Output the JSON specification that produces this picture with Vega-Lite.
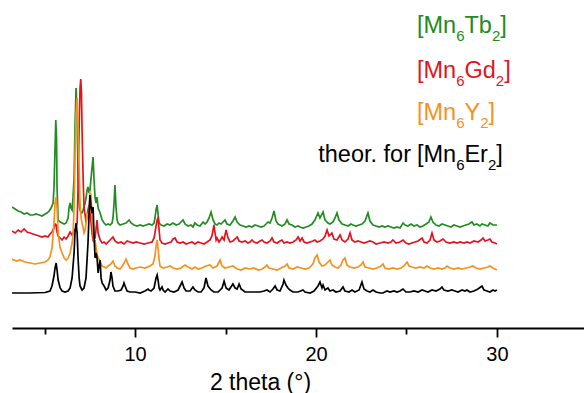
{
  "$schema": "https://vega.github.io/schema/vega-lite/v6.json",
  "width": 572,
  "height": 328,
  "autosize": {"type": "none"},
  "padding": {"left": 12, "top": 0, "right": 0, "bottom": 65},
  "background": "white",
  "config": {"view": {"stroke": null}, "font": "Liberation Sans"},
  "datasets": {
    "k": [{"x":3.20,"y":35},{"x":4.20,"y":35},{"x":5.03,"y":35.5},{"x":5.30,"y":37},{"x":5.41,"y":42},{"x":5.52,"y":52},{"x":5.58,"y":60},{"x":5.64,"y":65},{"x":5.69,"y":58},{"x":5.75,"y":48},{"x":5.86,"y":40},{"x":5.97,"y":37},{"x":6.13,"y":36},{"x":6.30,"y":37},{"x":6.41,"y":40},{"x":6.52,"y":50},{"x":6.63,"y":75},{"x":6.68,"y":95},{"x":6.74,"y":105},{"x":6.80,"y":95},{"x":6.85,"y":70},{"x":6.91,"y":50},{"x":6.96,"y":42},{"x":7.07,"y":38},{"x":7.18,"y":40},{"x":7.29,"y":50},{"x":7.40,"y":85},{"x":7.46,"y":115},{"x":7.51,"y":133},{"x":7.57,"y":120},{"x":7.62,"y":115},{"x":7.68,"y":121},{"x":7.73,"y":95},{"x":7.79,"y":70},{"x":7.85,"y":75},{"x":7.90,"y":70},{"x":7.96,"y":55},{"x":8.01,"y":62},{"x":8.07,"y":68},{"x":8.12,"y":50},{"x":8.18,"y":45},{"x":8.29,"y":42},{"x":8.40,"y":38},{"x":8.51,"y":40},{"x":8.62,"y":48},{"x":8.67,"y":56},{"x":8.73,"y":50},{"x":8.78,"y":42},{"x":8.89,"y":37},{"x":9.06,"y":37},{"x":9.23,"y":38},{"x":9.34,"y":42},{"x":9.39,"y":45},{"x":9.45,"y":42},{"x":9.56,"y":37},{"x":9.72,"y":36},{"x":10.00,"y":36},{"x":10.28,"y":35},{"x":10.55,"y":37},{"x":10.72,"y":39},{"x":10.77,"y":38},{"x":10.88,"y":37},{"x":11.05,"y":40},{"x":11.16,"y":50},{"x":11.22,"y":53},{"x":11.27,"y":48},{"x":11.33,"y":40},{"x":11.38,"y":38},{"x":11.49,"y":41},{"x":11.55,"y":38},{"x":11.66,"y":36},{"x":11.82,"y":39},{"x":11.93,"y":37},{"x":12.15,"y":36},{"x":12.38,"y":38},{"x":12.49,"y":42},{"x":12.60,"y":46},{"x":12.71,"y":40},{"x":12.82,"y":37},{"x":13.04,"y":37},{"x":13.20,"y":41},{"x":13.31,"y":38},{"x":13.48,"y":36},{"x":13.65,"y":36},{"x":13.81,"y":40},{"x":13.92,"y":50},{"x":14.03,"y":42},{"x":14.20,"y":38},{"x":14.36,"y":36},{"x":14.59,"y":36},{"x":14.81,"y":40},{"x":14.92,"y":47},{"x":15.03,"y":40},{"x":15.19,"y":38},{"x":15.41,"y":44},{"x":15.53,"y":40},{"x":15.64,"y":39},{"x":15.75,"y":44},{"x":15.86,"y":39},{"x":16.08,"y":36},{"x":16.35,"y":36},{"x":16.63,"y":36},{"x":16.91,"y":36},{"x":17.13,"y":37},{"x":17.29,"y":38},{"x":17.46,"y":36},{"x":17.62,"y":39},{"x":17.74,"y":42},{"x":17.85,"y":38},{"x":18.01,"y":37},{"x":18.18,"y":44},{"x":18.23,"y":48},{"x":18.34,"y":43},{"x":18.45,"y":40},{"x":18.56,"y":38},{"x":18.73,"y":36},{"x":19.01,"y":36},{"x":19.28,"y":38},{"x":19.39,"y":36},{"x":19.67,"y":35},{"x":19.89,"y":37},{"x":20.11,"y":42},{"x":20.22,"y":46},{"x":20.33,"y":40},{"x":20.39,"y":43},{"x":20.50,"y":38},{"x":20.66,"y":40},{"x":20.77,"y":37},{"x":20.94,"y":38},{"x":21.10,"y":36},{"x":21.33,"y":37},{"x":21.49,"y":41},{"x":21.60,"y":37},{"x":21.82,"y":36},{"x":21.99,"y":38},{"x":22.15,"y":36},{"x":22.38,"y":38},{"x":22.54,"y":46},{"x":22.65,"y":39},{"x":22.82,"y":37},{"x":22.98,"y":36},{"x":23.15,"y":38},{"x":23.32,"y":36},{"x":23.54,"y":35},{"x":23.70,"y":35},{"x":23.92,"y":37},{"x":24.09,"y":36},{"x":24.31,"y":37},{"x":24.48,"y":36},{"x":24.64,"y":37},{"x":24.81,"y":39},{"x":24.97,"y":36},{"x":25.19,"y":36},{"x":25.41,"y":37},{"x":25.64,"y":36},{"x":25.86,"y":38},{"x":26.02,"y":37},{"x":26.19,"y":36},{"x":26.41,"y":38},{"x":26.63,"y":37},{"x":26.85,"y":39},{"x":26.96,"y":41},{"x":27.07,"y":38},{"x":27.29,"y":37},{"x":27.51,"y":38},{"x":27.68,"y":37},{"x":27.85,"y":36},{"x":28.07,"y":38},{"x":28.23,"y":37},{"x":28.34,"y":38},{"x":28.51,"y":36},{"x":28.73,"y":37},{"x":28.95,"y":39},{"x":29.17,"y":42},{"x":29.28,"y":38},{"x":29.45,"y":37},{"x":29.61,"y":36},{"x":29.78,"y":38},{"x":29.89,"y":37},{"x":30.00,"y":38}],
    "o": [{"x":3.20,"y":69},{"x":3.43,"y":67},{"x":3.65,"y":68},{"x":3.92,"y":66},{"x":4.20,"y":65},{"x":4.48,"y":64},{"x":4.75,"y":65},{"x":5.03,"y":66},{"x":5.19,"y":68},{"x":5.30,"y":71},{"x":5.41,"y":80},{"x":5.52,"y":105},{"x":5.58,"y":125},{"x":5.64,"y":131},{"x":5.69,"y":120},{"x":5.75,"y":95},{"x":5.86,"y":80},{"x":5.97,"y":75},{"x":6.08,"y":70},{"x":6.19,"y":68},{"x":6.30,"y":70},{"x":6.41,"y":75},{"x":6.52,"y":85},{"x":6.57,"y":92},{"x":6.63,"y":120},{"x":6.68,"y":170},{"x":6.74,"y":215},{"x":6.80,"y":230},{"x":6.85,"y":200},{"x":6.91,"y":160},{"x":6.96,"y":125},{"x":7.02,"y":110},{"x":7.07,"y":105},{"x":7.13,"y":100},{"x":7.18,"y":95},{"x":7.24,"y":98},{"x":7.29,"y":105},{"x":7.35,"y":115},{"x":7.40,"y":110},{"x":7.46,"y":120},{"x":7.51,"y":135},{"x":7.57,"y":133},{"x":7.62,"y":110},{"x":7.68,"y":95},{"x":7.73,"y":85},{"x":7.79,"y":88},{"x":7.85,"y":80},{"x":7.90,"y":74},{"x":7.96,"y":70},{"x":8.07,"y":66},{"x":8.18,"y":62},{"x":8.29,"y":61},{"x":8.40,"y":60},{"x":8.51,"y":62},{"x":8.67,"y":64},{"x":8.78,"y":67},{"x":8.89,"y":62},{"x":9.01,"y":60},{"x":9.17,"y":59},{"x":9.34,"y":63},{"x":9.50,"y":69},{"x":9.61,"y":64},{"x":9.72,"y":60},{"x":9.89,"y":59},{"x":10.06,"y":60},{"x":10.28,"y":61},{"x":10.55,"y":60},{"x":10.83,"y":62},{"x":10.99,"y":64},{"x":11.10,"y":72},{"x":11.16,"y":82},{"x":11.22,"y":88},{"x":11.27,"y":80},{"x":11.33,"y":68},{"x":11.38,"y":62},{"x":11.55,"y":60},{"x":11.77,"y":61},{"x":11.93,"y":62},{"x":12.10,"y":60},{"x":12.32,"y":59},{"x":12.54,"y":60},{"x":12.76,"y":63},{"x":12.93,"y":61},{"x":13.15,"y":59},{"x":13.31,"y":61},{"x":13.48,"y":59},{"x":13.70,"y":60},{"x":13.92,"y":62},{"x":14.14,"y":63},{"x":14.31,"y":60},{"x":14.53,"y":62},{"x":14.70,"y":68},{"x":14.81,"y":62},{"x":14.97,"y":60},{"x":15.19,"y":61},{"x":15.41,"y":62},{"x":15.64,"y":59},{"x":15.86,"y":58},{"x":16.08,"y":60},{"x":16.35,"y":59},{"x":16.57,"y":60},{"x":16.80,"y":58},{"x":17.02,"y":59},{"x":17.18,"y":61},{"x":17.29,"y":63},{"x":17.40,"y":60},{"x":17.62,"y":59},{"x":17.85,"y":58},{"x":18.07,"y":60},{"x":18.29,"y":62},{"x":18.40,"y":64},{"x":18.51,"y":60},{"x":18.73,"y":59},{"x":18.95,"y":61},{"x":19.17,"y":60},{"x":19.39,"y":59},{"x":19.61,"y":60},{"x":19.83,"y":64},{"x":19.94,"y":70},{"x":20.06,"y":73},{"x":20.17,"y":66},{"x":20.33,"y":62},{"x":20.50,"y":63},{"x":20.66,"y":66},{"x":20.77,"y":68},{"x":20.88,"y":63},{"x":21.05,"y":61},{"x":21.22,"y":60},{"x":21.38,"y":63},{"x":21.49,"y":68},{"x":21.60,"y":70},{"x":21.71,"y":63},{"x":21.88,"y":61},{"x":22.10,"y":60},{"x":22.32,"y":61},{"x":22.49,"y":63},{"x":22.60,"y":66},{"x":22.71,"y":61},{"x":22.93,"y":60},{"x":23.15,"y":59},{"x":23.37,"y":60},{"x":23.59,"y":62},{"x":23.70,"y":64},{"x":23.81,"y":60},{"x":24.03,"y":59},{"x":24.25,"y":60},{"x":24.48,"y":59},{"x":24.70,"y":60},{"x":24.86,"y":62},{"x":25.03,"y":66},{"x":25.14,"y":62},{"x":25.30,"y":61},{"x":25.52,"y":60},{"x":25.75,"y":61},{"x":25.97,"y":60},{"x":26.13,"y":62},{"x":26.30,"y":60},{"x":26.52,"y":59},{"x":26.74,"y":60},{"x":26.96,"y":59},{"x":27.13,"y":60},{"x":27.24,"y":62},{"x":27.40,"y":60},{"x":27.62,"y":59},{"x":27.85,"y":60},{"x":28.07,"y":59},{"x":28.29,"y":60},{"x":28.51,"y":61},{"x":28.67,"y":62},{"x":28.84,"y":60},{"x":29.06,"y":59},{"x":29.28,"y":60},{"x":29.50,"y":61},{"x":29.61,"y":62},{"x":29.78,"y":60},{"x":30.00,"y":58}],
    "r": [{"x":3.20,"y":97},{"x":3.37,"y":95},{"x":3.54,"y":98},{"x":3.70,"y":96},{"x":3.87,"y":99},{"x":4.03,"y":96},{"x":4.20,"y":95},{"x":4.36,"y":94},{"x":4.53,"y":93},{"x":4.70,"y":92},{"x":4.86,"y":91},{"x":5.03,"y":92},{"x":5.19,"y":91},{"x":5.30,"y":94},{"x":5.41,"y":96},{"x":5.52,"y":100},{"x":5.58,"y":104},{"x":5.64,"y":103},{"x":5.69,"y":96},{"x":5.75,"y":92},{"x":5.86,"y":90},{"x":5.97,"y":88},{"x":6.08,"y":91},{"x":6.19,"y":89},{"x":6.30,"y":92},{"x":6.41,"y":96},{"x":6.52,"y":93},{"x":6.63,"y":97},{"x":6.74,"y":100},{"x":6.80,"y":105},{"x":6.85,"y":140},{"x":6.91,"y":200},{"x":6.96,"y":240},{"x":7.00,"y":249},{"x":7.04,"y":235},{"x":7.07,"y":200},{"x":7.13,"y":150},{"x":7.18,"y":120},{"x":7.24,"y":113},{"x":7.29,"y":105},{"x":7.35,"y":112},{"x":7.40,"y":118},{"x":7.46,"y":123},{"x":7.51,"y":115},{"x":7.57,"y":105},{"x":7.62,"y":95},{"x":7.68,"y":88},{"x":7.79,"y":90},{"x":7.90,"y":108},{"x":7.96,"y":95},{"x":8.07,"y":88},{"x":8.18,"y":85},{"x":8.29,"y":86},{"x":8.40,"y":84},{"x":8.51,"y":86},{"x":8.62,"y":88},{"x":8.78,"y":91},{"x":8.89,"y":87},{"x":9.06,"y":85},{"x":9.23,"y":86},{"x":9.39,"y":84},{"x":9.56,"y":87},{"x":9.72,"y":86},{"x":9.89,"y":85},{"x":10.06,"y":86},{"x":10.28,"y":85},{"x":10.50,"y":84},{"x":10.72,"y":85},{"x":10.94,"y":86},{"x":11.05,"y":90},{"x":11.10,"y":95},{"x":11.16,"y":102},{"x":11.22,"y":108},{"x":11.27,"y":110},{"x":11.33,"y":98},{"x":11.38,"y":88},{"x":11.49,"y":85},{"x":11.66,"y":84},{"x":11.82,"y":85},{"x":11.99,"y":86},{"x":12.10,"y":89},{"x":12.21,"y":90},{"x":12.32,"y":86},{"x":12.49,"y":85},{"x":12.65,"y":86},{"x":12.82,"y":84},{"x":12.98,"y":85},{"x":13.15,"y":86},{"x":13.31,"y":84},{"x":13.48,"y":86},{"x":13.65,"y":85},{"x":13.81,"y":84},{"x":13.98,"y":86},{"x":14.14,"y":88},{"x":14.25,"y":92},{"x":14.36,"y":103},{"x":14.42,"y":95},{"x":14.48,"y":88},{"x":14.53,"y":90},{"x":14.64,"y":86},{"x":14.75,"y":89},{"x":14.81,"y":91},{"x":14.92,"y":88},{"x":15.03,"y":98},{"x":15.14,"y":90},{"x":15.25,"y":86},{"x":15.41,"y":87},{"x":15.53,"y":89},{"x":15.64,"y":91},{"x":15.75,"y":87},{"x":15.91,"y":86},{"x":16.08,"y":87},{"x":16.24,"y":85},{"x":16.35,"y":86},{"x":16.46,"y":88},{"x":16.57,"y":86},{"x":16.74,"y":85},{"x":16.91,"y":87},{"x":17.02,"y":88},{"x":17.13,"y":86},{"x":17.29,"y":85},{"x":17.46,"y":87},{"x":17.57,"y":90},{"x":17.68,"y":86},{"x":17.85,"y":85},{"x":18.01,"y":87},{"x":18.12,"y":88},{"x":18.23,"y":85},{"x":18.40,"y":86},{"x":18.56,"y":85},{"x":18.73,"y":86},{"x":18.90,"y":88},{"x":19.01,"y":91},{"x":19.12,"y":87},{"x":19.23,"y":90},{"x":19.34,"y":86},{"x":19.50,"y":85},{"x":19.67,"y":86},{"x":19.83,"y":87},{"x":19.94,"y":88},{"x":20.06,"y":86},{"x":20.22,"y":87},{"x":20.39,"y":89},{"x":20.50,"y":92},{"x":20.61,"y":98},{"x":20.72,"y":92},{"x":20.88,"y":95},{"x":20.99,"y":89},{"x":21.16,"y":88},{"x":21.33,"y":93},{"x":21.44,"y":88},{"x":21.60,"y":86},{"x":21.77,"y":89},{"x":21.88,"y":95},{"x":21.99,"y":88},{"x":22.15,"y":86},{"x":22.32,"y":87},{"x":22.49,"y":86},{"x":22.65,"y":85},{"x":22.82,"y":86},{"x":22.98,"y":87},{"x":23.15,"y":86},{"x":23.32,"y":84},{"x":23.54,"y":85},{"x":23.76,"y":86},{"x":23.98,"y":85},{"x":24.14,"y":86},{"x":24.25,"y":88},{"x":24.42,"y":85},{"x":24.64,"y":86},{"x":24.81,"y":88},{"x":24.97,"y":85},{"x":25.14,"y":84},{"x":25.30,"y":85},{"x":25.47,"y":86},{"x":25.64,"y":87},{"x":25.86,"y":90},{"x":25.97,"y":86},{"x":26.13,"y":85},{"x":26.30,"y":88},{"x":26.41,"y":95},{"x":26.52,"y":88},{"x":26.68,"y":86},{"x":26.85,"y":87},{"x":27.02,"y":89},{"x":27.18,"y":86},{"x":27.40,"y":85},{"x":27.62,"y":86},{"x":27.79,"y":85},{"x":27.96,"y":86},{"x":28.18,"y":85},{"x":28.34,"y":86},{"x":28.51,"y":85},{"x":28.73,"y":87},{"x":28.95,"y":86},{"x":29.12,"y":88},{"x":29.23,"y":90},{"x":29.34,"y":87},{"x":29.50,"y":88},{"x":29.61,"y":89},{"x":29.72,"y":86},{"x":29.89,"y":85},{"x":30.00,"y":84}],
    "g": [{"x":3.20,"y":121},{"x":3.37,"y":119},{"x":3.54,"y":117},{"x":3.70,"y":116},{"x":3.87,"y":114},{"x":4.03,"y":115},{"x":4.20,"y":113},{"x":4.36,"y":113},{"x":4.53,"y":114},{"x":4.70,"y":113},{"x":4.86,"y":112},{"x":5.03,"y":114},{"x":5.14,"y":115},{"x":5.25,"y":117},{"x":5.36,"y":120},{"x":5.47,"y":125},{"x":5.52,"y":140},{"x":5.58,"y":180},{"x":5.62,"y":208},{"x":5.66,"y":190},{"x":5.69,"y":140},{"x":5.75,"y":108},{"x":5.86,"y":106},{"x":5.97,"y":105},{"x":6.08,"y":104},{"x":6.19,"y":105},{"x":6.30,"y":110},{"x":6.35,"y":120},{"x":6.41,"y":125},{"x":6.46,"y":120},{"x":6.52,"y":118},{"x":6.57,"y":130},{"x":6.63,"y":150},{"x":6.68,"y":200},{"x":6.74,"y":240},{"x":6.80,"y":210},{"x":6.85,"y":150},{"x":6.91,"y":125},{"x":6.96,"y":118},{"x":7.02,"y":115},{"x":7.07,"y":115},{"x":7.13,"y":118},{"x":7.24,"y":125},{"x":7.29,"y":130},{"x":7.35,"y":138},{"x":7.40,"y":141},{"x":7.46,"y":135},{"x":7.51,"y":138},{"x":7.57,"y":150},{"x":7.62,"y":160},{"x":7.68,"y":171},{"x":7.73,"y":150},{"x":7.79,"y":130},{"x":7.85,"y":125},{"x":7.90,"y":131},{"x":7.96,"y":120},{"x":8.07,"y":115},{"x":8.18,"y":108},{"x":8.29,"y":105},{"x":8.40,"y":103},{"x":8.51,"y":104},{"x":8.62,"y":103},{"x":8.73,"y":105},{"x":8.78,"y":110},{"x":8.84,"y":125},{"x":8.89,"y":143},{"x":8.95,"y":120},{"x":9.01,"y":108},{"x":9.06,"y":105},{"x":9.17,"y":103},{"x":9.34,"y":104},{"x":9.50,"y":105},{"x":9.67,"y":108},{"x":9.78,"y":105},{"x":9.94,"y":103},{"x":10.11,"y":102},{"x":10.28,"y":103},{"x":10.44,"y":102},{"x":10.61,"y":103},{"x":10.77,"y":104},{"x":10.94,"y":103},{"x":11.05,"y":105},{"x":11.10,"y":110},{"x":11.16,"y":118},{"x":11.22,"y":123},{"x":11.27,"y":114},{"x":11.33,"y":105},{"x":11.44,"y":103},{"x":11.60,"y":102},{"x":11.77,"y":104},{"x":11.93,"y":103},{"x":12.10,"y":105},{"x":12.27,"y":103},{"x":12.43,"y":104},{"x":12.54,"y":106},{"x":12.65,"y":108},{"x":12.76,"y":104},{"x":12.93,"y":102},{"x":13.09,"y":103},{"x":13.20,"y":101},{"x":13.31,"y":105},{"x":13.43,"y":103},{"x":13.59,"y":102},{"x":13.76,"y":106},{"x":13.87,"y":104},{"x":13.98,"y":106},{"x":14.09,"y":110},{"x":14.20,"y":116},{"x":14.31,"y":108},{"x":14.42,"y":104},{"x":14.53,"y":103},{"x":14.64,"y":105},{"x":14.75,"y":104},{"x":14.86,"y":106},{"x":14.97,"y":108},{"x":15.08,"y":104},{"x":15.25,"y":103},{"x":15.41,"y":107},{"x":15.53,"y":111},{"x":15.64,"y":106},{"x":15.80,"y":103},{"x":15.97,"y":102},{"x":16.13,"y":101},{"x":16.30,"y":102},{"x":16.46,"y":101},{"x":16.63,"y":103},{"x":16.80,"y":102},{"x":16.96,"y":101},{"x":17.13,"y":102},{"x":17.24,"y":104},{"x":17.35,"y":106},{"x":17.46,"y":105},{"x":17.57,"y":110},{"x":17.68,"y":117},{"x":17.79,"y":107},{"x":17.90,"y":104},{"x":18.01,"y":103},{"x":18.12,"y":102},{"x":18.29,"y":104},{"x":18.40,"y":108},{"x":18.51,"y":104},{"x":18.67,"y":103},{"x":18.84,"y":101},{"x":19.01,"y":102},{"x":19.12,"y":101},{"x":19.28,"y":100},{"x":19.45,"y":101},{"x":19.61,"y":102},{"x":19.78,"y":104},{"x":19.94,"y":108},{"x":20.11,"y":115},{"x":20.22,"y":110},{"x":20.39,"y":116},{"x":20.50,"y":108},{"x":20.66,"y":105},{"x":20.77,"y":104},{"x":20.94,"y":106},{"x":21.05,"y":110},{"x":21.16,"y":115},{"x":21.27,"y":108},{"x":21.44,"y":104},{"x":21.60,"y":103},{"x":21.77,"y":102},{"x":21.93,"y":104},{"x":22.04,"y":103},{"x":22.21,"y":102},{"x":22.38,"y":103},{"x":22.54,"y":104},{"x":22.71,"y":107},{"x":22.87,"y":115},{"x":22.98,"y":107},{"x":23.15,"y":103},{"x":23.32,"y":102},{"x":23.48,"y":101},{"x":23.65,"y":102},{"x":23.81,"y":101},{"x":23.98,"y":102},{"x":24.14,"y":101},{"x":24.31,"y":100},{"x":24.48,"y":101},{"x":24.64,"y":100},{"x":24.81,"y":105},{"x":24.92,"y":103},{"x":25.08,"y":102},{"x":25.25,"y":104},{"x":25.41,"y":102},{"x":25.58,"y":103},{"x":25.75,"y":101},{"x":25.91,"y":102},{"x":26.08,"y":104},{"x":26.24,"y":106},{"x":26.35,"y":111},{"x":26.46,"y":106},{"x":26.63,"y":103},{"x":26.80,"y":102},{"x":26.96,"y":104},{"x":27.13,"y":103},{"x":27.29,"y":102},{"x":27.46,"y":101},{"x":27.62,"y":103},{"x":27.79,"y":102},{"x":27.96,"y":101},{"x":28.12,"y":102},{"x":28.29,"y":103},{"x":28.45,"y":104},{"x":28.62,"y":106},{"x":28.73,"y":103},{"x":28.89,"y":104},{"x":29.06,"y":102},{"x":29.17,"y":104},{"x":29.34,"y":103},{"x":29.50,"y":102},{"x":29.61,"y":105},{"x":29.78,"y":103},{"x":30.00,"y":103}],
    "labels": [
      {"t":"[Mn","s":"Tb","x":25.58,"y":295},{"t":"Tb","s":"Tb","x":28.20,"y":295},{"t":"]","s":"Tb","x":30.18,"y":295},
      {"t":"[Mn","s":"Gd","x":25.58,"y":250},{"t":"Gd","s":"Gd","x":28.20,"y":250},{"t":"]","s":"Gd","x":30.40,"y":250},
      {"t":"[Mn","s":"Y","x":25.58,"y":208},{"t":"Y","s":"Y","x":28.20,"y":208},{"t":"]","s":"Y","x":29.53,"y":208},
      {"t":"[Mn","s":"Er","x":25.58,"y":166},{"t":"Er","s":"Er","x":28.20,"y":166},{"t":"]","s":"Er","x":29.96,"y":166}
    ],
    "subs": [
      {"t":"6","s":"Tb","x":27.75,"y":295},{"t":"2","s":"Tb","x":29.72,"y":295},
      {"t":"6","s":"Gd","x":27.75,"y":250},{"t":"2","s":"Gd","x":29.94,"y":250},
      {"t":"6","s":"Y","x":27.75,"y":208},{"t":"2","s":"Y","x":29.07,"y":208},
      {"t":"6","s":"Er","x":27.75,"y":166},{"t":"2","s":"Er","x":29.50,"y":166}
    ],
    "prefix": [{"t":"theor. for","s":"Er","x":25.25,"y":166}]
  },
  "layer": [
    {
      "data": {"name": "g"},
      "mark": {"type": "line", "color": "#228b22", "strokeWidth": 1.7, "clip": true},
      "encoding": {
        "x": {"field": "x", "type": "quantitative", "scale": {"domain": [3.2, 34.81], "nice": false, "zero": false},
          "axis": {
            "values": [5, 10, 15, 20, 25, 30],
            "labelExpr": "datum.value % 10 === 0 ? datum.label : ''",
            "tickSize": {"condition": {"test": "datum.value % 10 === 0", "value": 9}, "value": 6},
            "grid": false, "domainColor": "black", "domainWidth": 1.8, "tickColor": "black", "tickWidth": 1.8,
            "labelFont": "Liberation Sans", "labelFontSize": 20, "labelColor": "black", "labelPadding": 7,
            "title": "2 theta (°)", "titleFont": "Liberation Sans", "titleFontSize": 23, "titleFontWeight": "normal", "titleColor": "black",
            "titleX": 248, "titleY": 43, "titleBaseline": "top", "titleAlign": "center"
          }},
        "y": {"field": "y", "type": "quantitative", "scale": {"domain": [0, 328], "nice": false}, "axis": null}
      }
    },
    {
      "data": {"name": "r"},
      "mark": {"type": "line", "color": "#e3141e", "strokeWidth": 1.7, "clip": true},
      "encoding": {"x": {"field": "x", "type": "quantitative"}, "y": {"field": "y", "type": "quantitative"}}
    },
    {
      "data": {"name": "o"},
      "mark": {"type": "line", "color": "#f5921e", "strokeWidth": 1.7, "clip": true},
      "encoding": {"x": {"field": "x", "type": "quantitative"}, "y": {"field": "y", "type": "quantitative"}}
    },
    {
      "data": {"name": "k"},
      "mark": {"type": "line", "color": "black", "strokeWidth": 1.7, "clip": true},
      "encoding": {"x": {"field": "x", "type": "quantitative"}, "y": {"field": "y", "type": "quantitative"}}
    },
    {
      "data": {"name": "labels"},
      "mark": {"type": "text", "align": "left", "baseline": "alphabetic", "font": "Liberation Sans", "fontSize": 23.5},
      "encoding": {
        "x": {"field": "x", "type": "quantitative"},
        "y": {"field": "y", "type": "quantitative"},
        "text": {"field": "t"},
        "color": {"field": "s", "type": "nominal", "scale": {"domain": ["Tb", "Gd", "Y", "Er"], "range": ["#228b22", "#e3141e", "#f5921e", "black"]}, "legend": null}
      }
    },
    {
      "data": {"name": "subs"},
      "mark": {"type": "text", "align": "left", "baseline": "alphabetic", "font": "Liberation Sans", "fontSize": 15, "dy": 8},
      "encoding": {
        "x": {"field": "x", "type": "quantitative"},
        "y": {"field": "y", "type": "quantitative"},
        "text": {"field": "t"},
        "color": {"field": "s", "type": "nominal", "legend": null}
      }
    },
    {
      "data": {"name": "prefix"},
      "mark": {"type": "text", "align": "right", "baseline": "alphabetic", "font": "Liberation Sans", "fontSize": 23.5},
      "encoding": {
        "x": {"field": "x", "type": "quantitative"},
        "y": {"field": "y", "type": "quantitative"},
        "text": {"field": "t"},
        "color": {"field": "s", "type": "nominal", "legend": null}
      }
    }
  ]
}
